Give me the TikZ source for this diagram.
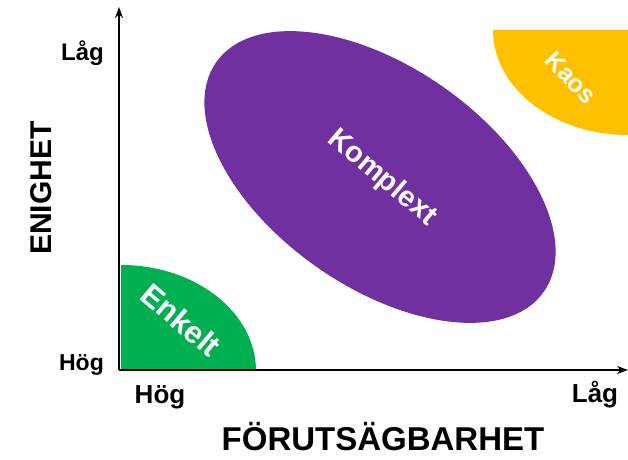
\documentclass[tikz,border=0pt]{standalone}
\usepackage{fontspec}
\setmainfont{Liberation Sans}
\usetikzlibrary{arrows.meta}
\definecolor{enkelt}{HTML}{00B050}
\definecolor{komplext}{HTML}{7030A0}
\definecolor{kaos}{HTML}{FFC000}

\begin{document}
\begin{tikzpicture}[x=1pt,y=1pt,
  axis/.style={line width=2pt,-{Stealth[length=11pt,width=8pt]}},
  ticklabel/.style={font=\fontsize{#1}{#1}\bfseries\selectfont},
  axistitle/.style={anchor=base,font=\fontsize{#1}{#1}\bfseries\selectfont},
  fieldlabel/.style={text=white,font=\fontsize{#1}{#1}\bfseries\selectfont}]
\useasboundingbox (0,0) rectangle (628,459);

      \coordinate (o) at (119,89);
       \coordinate (ytop) at (119,452);
        \coordinate (xend) at (628,89);

% domains
\fill[enkelt] (121,88) -- (256,88) arc[start angle=0,end angle=90,x radius=135,y radius=106] -- cycle;
\fill[komplext] (380,282) ellipse[x radius=200,y radius=110,rotate=-35];
\fill[kaos] (628,429) -- (493,429) arc[start angle=180,end angle=270,x radius=135,y radius=105] -- cycle;

\node[fieldlabel=31,rotate=-40] (enk) at (181,139) {Enkelt};
\node[fieldlabel=29,rotate=-40] (kom) at (382,281) {Komplext};
\node[fieldlabel=25,rotate=-47] (kao) at (571,381) {Kaos};

% axes
\draw[axis] (o)--(ytop);
\draw[axis] (o)--(xend);

\node[ticklabel=23,anchor=base east,inner xsep=0pt] (ylow) at (104,89) {Hög};
\node[ticklabel=24,anchor=base east,inner xsep=0pt] (yhigh) at (104,399) {Låg};
\node[ticklabel=26,anchor=base] (xlow) at (160,56) {Hög};
\node[ticklabel=26,anchor=base] (xhigh) at (595,57) {Låg};

\node[axistitle=30,rotate=90] (enighet) at (51,271) {ENIGHET};
\node[axistitle=33] (forut) at (383,9) {FÖRUTSÄGBARHET};
\end{tikzpicture}
\end{document}
